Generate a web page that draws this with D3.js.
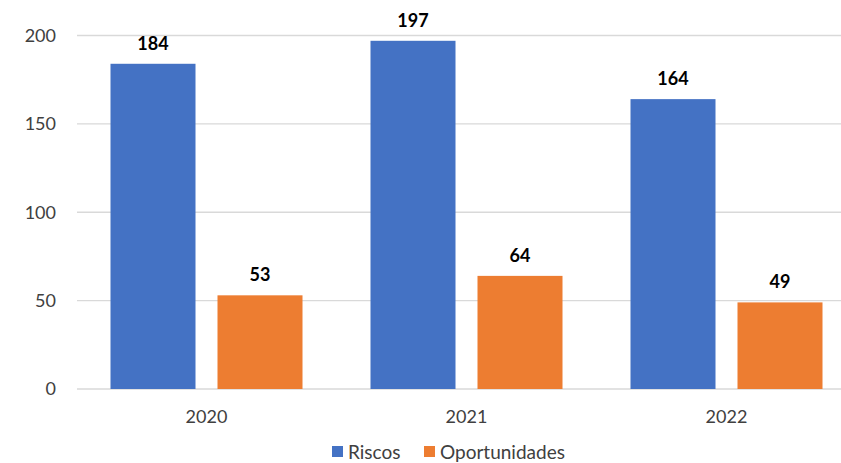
<!DOCTYPE html>
<html>
<head>
<meta charset="utf-8">
<script src="https://cdn.jsdelivr.net/npm/d3@7"></script>
<style>
  html, body { margin: 0; padding: 0; background: #fff; }
  svg { display: block; font-family: Lato, "Open Sans", sans-serif; }
</style>
</head>
<body>
<svg id="chart" width="841" height="463"></svg>
<script>
// Data
const years = ["2020", "2021", "2022"];
const seriesNames = ["Riscos", "Oportunidades"];
const riscos = [184, 197, 164];
const oportunidades = [53, 64, 49];
const yTicks = [0, 50, 100, 150, 200];
const colors = ["#4472C4", "#ED7D31"];

const rows = years.map((y, i) => ({ year: y, values: [riscos[i], oportunidades[i]] }));

const svg = d3.select("#chart");
const W = 841;

const y = d3.scaleLinear().domain([0, 200]).range([389, 35.5]);
const x0 = d3.scaleBand().domain(years).range([76.5, 856.5]).paddingInner(68 / 260).paddingOuter(34 / 260);
const x1 = d3.scaleBand().domain(seriesNames).range([0, x0.bandwidth()]).paddingInner(22 / 107).paddingOuter(0);

// Gridlines
svg.append("g").selectAll("line").data(yTicks).join("line")
  .attr("x1", 77).attr("x2", W)
  .attr("y1", d => y(d)).attr("y2", d => y(d))
  .attr("stroke", "#d9d9d9").attr("stroke-width", 1.3);

// Y axis labels
svg.append("g").selectAll("text").data(yTicks).join("text")
  .attr("x", 56).attr("y", d => y(d))
  .attr("dy", "0.36em")
  .attr("text-anchor", "end")
  .attr("font-size", 18)
  .attr("fill", "#404040")
  .text(d => d);

// Bars and value labels
const groups = svg.append("g").selectAll("g").data(rows).join("g")
  .attr("transform", d => `translate(${x0(d.year)},0)`);

groups.selectAll("rect").data(d => d.values.map((v, i) => ({ v, i }))).join("rect")
  .attr("x", d => x1(seriesNames[d.i]))
  .attr("width", x1.bandwidth())
  .attr("y", d => y(d.v))
  .attr("height", d => y(0) - y(d.v))
  .attr("fill", d => colors[d.i]);

groups.selectAll("text").data(d => d.values.map((v, i) => ({ v, i }))).join("text")
  .attr("x", d => x1(seriesNames[d.i]) + x1.bandwidth() / 2)
  .attr("y", d => y(d.v) - 14)
  .attr("text-anchor", "middle")
  .attr("font-size", 18)
  .attr("font-weight", "bold")
  .attr("fill", "#000")
  .text(d => d.v);

// X axis labels
svg.append("g").selectAll("text").data(years).join("text")
  .attr("x", d => x0(d) + x0.bandwidth() / 2)
  .attr("y", 423)
  .attr("text-anchor", "middle")
  .attr("font-size", 18)
  .attr("fill", "#404040")
  .text(d => d);

// Legend
const legend = svg.append("g");
const legendX = [332, 424];
seriesNames.forEach((name, i) => {
  legend.append("rect")
    .attr("x", legendX[i]).attr("y", 446)
    .attr("width", 11).attr("height", 11)
    .attr("fill", colors[i]);
  legend.append("text")
    .attr("x", legendX[i] + 16).attr("y", 459)
    .attr("font-size", 19)
    .attr("fill", "#404040")
    .text(name);
});
</script>
</body>
</html>
